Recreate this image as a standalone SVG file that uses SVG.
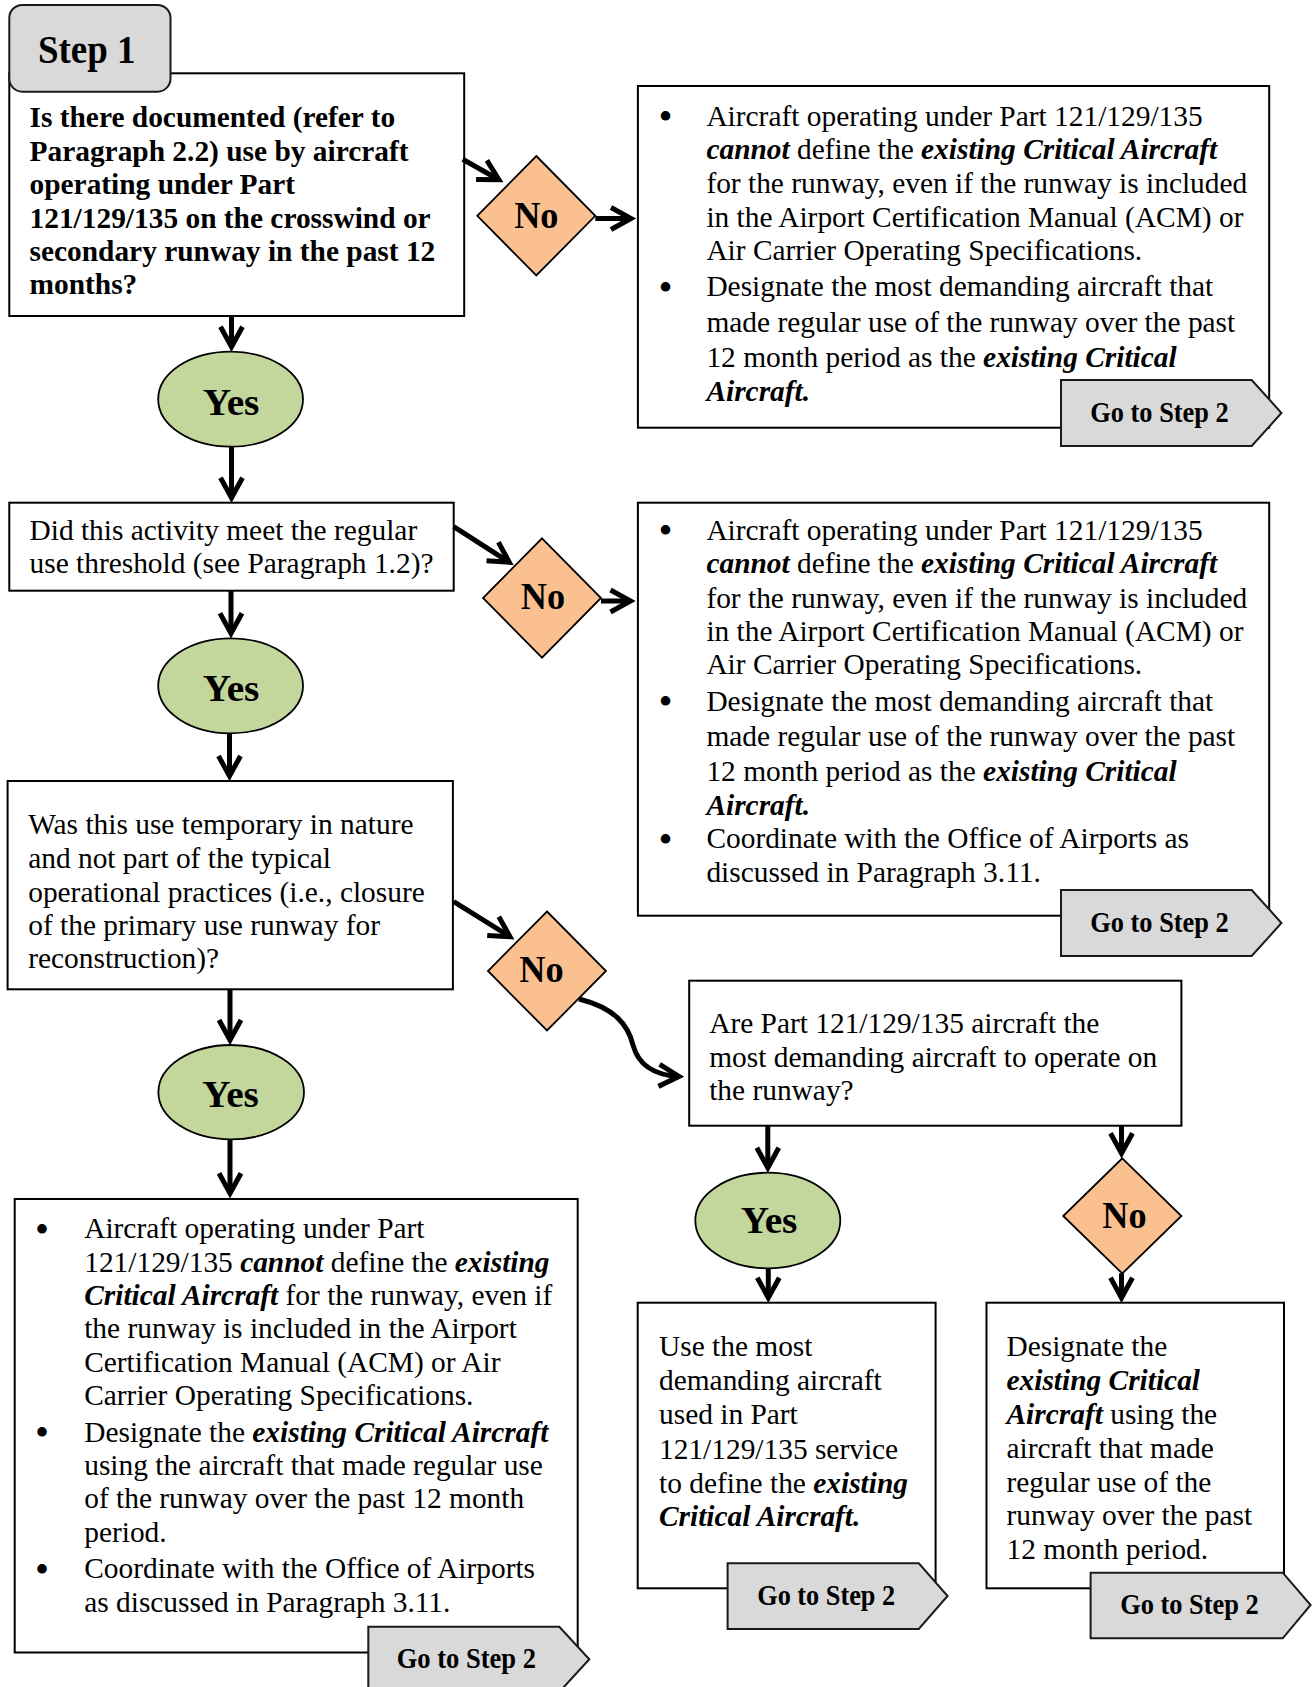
<svg xmlns="http://www.w3.org/2000/svg" width="1314" height="1687" viewBox="0 0 1314 1687">
<style>
  .box{fill:#fff;stroke:#000;stroke-width:2}
  .dia{fill:#fac090;stroke:#000;stroke-width:1.8}
  .ell{fill:#c3d69b;stroke:#000;stroke-width:1.8}
  .go{fill:#d9d9d9;stroke:#1a1a1a;stroke-width:2}
  .tab{fill:#d9d9d9;stroke:#1a1a1a;stroke-width:2}
  text{font-family:"Liberation Serif","Times New Roman",serif;fill:#000}
  .t{font-size:29.4px}
  .bul{font-size:40px}
  .b{font-weight:bold}
  .bi{font-weight:bold;font-style:italic}
  .lbl{font-size:38px;font-weight:bold;text-anchor:middle}
  .gt{font-size:30px;font-weight:bold;text-anchor:middle}
  .conn{fill:none;stroke:#000;stroke-width:5}
</style>
<defs>
  <marker id="ah" markerUnits="userSpaceOnUse" markerWidth="40" markerHeight="40" viewBox="-30 -20 40 40" refX="0" refY="0" orient="auto">
    <path d="M-20 -11 L0 0 L-20 11" fill="none" stroke="#000" stroke-width="5" stroke-linejoin="miter"/>
  </marker>
</defs>

<!-- Step 1 question -->
<g id="q1">
  <rect class="box" x="9.3" y="73.3" width="454.9" height="242.7"/>
  <text class="t b">
    <tspan x="29.5" y="127.3">Is there documented (refer to</tspan>
    <tspan x="29.5" y="160.7">Paragraph 2.2) use by aircraft</tspan>
    <tspan x="29.5" y="194.1">operating under Part</tspan>
    <tspan x="29.5" y="227.5">121/129/135 on the crosswind or</tspan>
    <tspan x="29.5" y="260.9">secondary runway in the past 12</tspan>
    <tspan x="29.5" y="294.3">months?</tspan>
  </text>
</g>
<g id="step1">
  <rect class="tab" x="9.3" y="5" width="161.2" height="86.7" rx="13" ry="13"/>
  <text class="b" x="37.9" y="63.3" font-size="39" textLength="97.6" lengthAdjust="spacingAndGlyphs">Step 1</text>
</g>

<g id="no1">
  <polygon class="dia" points="536.3,156 595.3,215.8 536.3,275.5 477.3,215.8"/>
  <text class="lbl" x="536.3" y="228.3" textLength="44.3" lengthAdjust="spacingAndGlyphs">No</text>
</g>

<g id="r1">
  <rect class="box" x="637.9" y="86" width="631.3" height="341.7"/>
  <text class="bul">
    <tspan x="658.5" y="130">•</tspan>
    <tspan x="658.5" y="300.5">•</tspan>
  </text>
  <text class="t" x="706.4" y="125.7">Aircraft operating under Part 121/129/135</text>
  <text class="t" x="706.4" y="159.1"><tspan class="bi">cannot</tspan> define the <tspan class="bi">existing Critical Aircraft</tspan></text>
  <text class="t" x="706.4" y="193.2">for the runway, even if the runway is included</text>
  <text class="t" x="706.4" y="226.7">in the Airport Certification Manual (ACM) or</text>
  <text class="t" x="706.4" y="260.1">Air Carrier Operating Specifications.</text>
  <text class="t" x="706.4" y="296.3">Designate the most demanding aircraft that</text>
  <text class="t" x="706.4" y="331.5">made regular use of the runway over the past</text>
  <text class="t" x="706.4" y="367">12 month period as the <tspan class="bi">existing Critical</tspan></text>
  <text class="t bi" x="706.4" y="400.7">Aircraft.</text>
</g>
<g id="go1">
  <polygon class="go" points="1061,380 1251.7,380 1281.4,413 1251.7,446 1061,446"/>
  <text class="gt" x="1159.5" y="421.7" textLength="138.5" lengthAdjust="spacingAndGlyphs">Go to Step 2</text>
</g>

<g id="yes1">
  <ellipse class="ell" cx="230.6" cy="399.2" rx="72.4" ry="47.5"/>
  <text class="lbl" x="231" y="414.5" font-size="37.5" textLength="56.7" lengthAdjust="spacingAndGlyphs">Yes</text>
</g>

<g id="q2">
  <rect class="box" x="9.3" y="502.7" width="444.4" height="88"/>
  <text class="t">
    <tspan x="29.5" y="540">Did this activity meet the regular</tspan>
    <tspan x="29.5" y="573.3">use threshold (see Paragraph 1.2)?</tspan>
  </text>
</g>

<g id="no2">
  <polygon class="dia" points="542,538.3 601,598 542,657.7 483,598"/>
  <text class="lbl" x="543" y="609.3" textLength="44.3" lengthAdjust="spacingAndGlyphs">No</text>
</g>

<g id="r2">
  <rect class="box" x="637.9" y="502.7" width="631.3" height="413"/>
  <text class="bul">
    <tspan x="658.5" y="544.3">•</tspan>
    <tspan x="658.5" y="714.9">•</tspan>
    <tspan x="658.5" y="852.6">•</tspan>
  </text>
  <text class="t" x="706.4" y="540">Aircraft operating under Part 121/129/135</text>
  <text class="t" x="706.4" y="573.4"><tspan class="bi">cannot</tspan> define the <tspan class="bi">existing Critical Aircraft</tspan></text>
  <text class="t" x="706.4" y="607.5">for the runway, even if the runway is included</text>
  <text class="t" x="706.4" y="641">in the Airport Certification Manual (ACM) or</text>
  <text class="t" x="706.4" y="674.4">Air Carrier Operating Specifications.</text>
  <text class="t" x="706.4" y="710.6">Designate the most demanding aircraft that</text>
  <text class="t" x="706.4" y="745.5">made regular use of the runway over the past</text>
  <text class="t" x="706.4" y="780.5">12 month period as the <tspan class="bi">existing Critical</tspan></text>
  <text class="t bi" x="706.4" y="814.5">Aircraft.</text>
  <text class="t" x="706.4" y="848.3">Coordinate with the Office of Airports as</text>
  <text class="t" x="706.4" y="881.7">discussed in Paragraph 3.11.</text>
</g>
<g id="go2">
  <polygon class="go" points="1061,890 1251.7,890 1281.4,923 1251.7,956 1061,956"/>
  <text class="gt" x="1159.5" y="931.7" textLength="138.5" lengthAdjust="spacingAndGlyphs">Go to Step 2</text>
</g>

<g id="yes2">
  <ellipse class="ell" cx="230.6" cy="685.8" rx="72.4" ry="47.5"/>
  <text class="lbl" x="231" y="700.5" font-size="37.5" textLength="56.7" lengthAdjust="spacingAndGlyphs">Yes</text>
</g>

<g id="q3">
  <rect class="box" x="7.6" y="781" width="445.3" height="208.3"/>
  <text class="t">
    <tspan x="28.2" y="834.3">Was this use temporary in nature</tspan>
    <tspan x="28.2" y="867.7">and not part of the typical</tspan>
    <tspan x="28.2" y="901.7">operational practices (i.e., closure</tspan>
    <tspan x="28.2" y="935">of the primary use runway for</tspan>
    <tspan x="28.2" y="968.3">reconstruction)?</tspan>
  </text>
</g>

<g id="no3">
  <polygon class="dia" points="547,911.5 606,971 547,1030.5 488,971"/>
  <text class="lbl" x="541.5" y="981.7" textLength="44.3" lengthAdjust="spacingAndGlyphs">No</text>
</g>

<g id="yes3">
  <ellipse class="ell" cx="231.2" cy="1092.2" rx="72.8" ry="47.2"/>
  <text class="lbl" x="230.5" y="1106.7" font-size="37.5" textLength="56.7" lengthAdjust="spacingAndGlyphs">Yes</text>
</g>

<g id="r3">
  <rect class="box" x="14.7" y="1199" width="563" height="453.5"/>
  <text class="bul">
    <tspan x="35" y="1242.6">•</tspan>
    <tspan x="35" y="1446">•</tspan>
    <tspan x="35" y="1582.6">•</tspan>
  </text>
  <text class="t" x="84.2" y="1238.3">Aircraft operating under Part</text>
  <text class="t" x="84.2" y="1271.7">121/129/135 <tspan class="bi">cannot</tspan> define the <tspan class="bi">existing</tspan></text>
  <text class="t" x="84.2" y="1305"><tspan class="bi">Critical Aircraft</tspan> for the runway, even if</text>
  <text class="t" x="84.2" y="1338.3">the runway is included in the Airport</text>
  <text class="t" x="84.2" y="1371.7">Certification Manual (ACM) or Air</text>
  <text class="t" x="84.2" y="1405">Carrier Operating Specifications.</text>
  <text class="t" x="84.2" y="1441.7">Designate the <tspan class="bi">existing Critical Aircraft</tspan></text>
  <text class="t" x="84.2" y="1475">using the aircraft that made regular use</text>
  <text class="t" x="84.2" y="1508.3">of the runway over the past 12 month</text>
  <text class="t" x="84.2" y="1541.7">period.</text>
  <text class="t" x="84.2" y="1578.3">Coordinate with the Office of Airports</text>
  <text class="t" x="84.2" y="1611.7">as discussed in Paragraph 3.11.</text>
</g>
<g id="go3">
  <polygon class="go" points="368.3,1626.7 559.3,1626.7 589.3,1659.3 559.3,1692 368.3,1692"/>
  <text class="gt" x="466.3" y="1668.3" textLength="139.3" lengthAdjust="spacingAndGlyphs">Go to Step 2</text>
</g>

<g id="q4">
  <rect class="box" x="689.2" y="980.7" width="492.2" height="145"/>
  <text class="t">
    <tspan x="709.2" y="1033.3">Are Part 121/129/135 aircraft the</tspan>
    <tspan x="709.2" y="1066.7">most demanding aircraft to operate on</tspan>
    <tspan x="709.2" y="1100">the runway?</tspan>
  </text>
</g>

<g id="yes4">
  <ellipse class="ell" cx="767.8" cy="1220.5" rx="72.5" ry="47.8"/>
  <text class="lbl" x="769" y="1233.3" font-size="37.5" textLength="56.7" lengthAdjust="spacingAndGlyphs">Yes</text>
</g>

<g id="no4">
  <polygon class="dia" points="1122.3,1158.3 1181.4,1216 1122.3,1273.5 1063.2,1216"/>
  <text class="lbl" x="1124.5" y="1228.3" textLength="44.3" lengthAdjust="spacingAndGlyphs">No</text>
</g>

<g id="r4">
  <rect class="box" x="637.7" y="1302.7" width="297.9" height="285.6"/>
  <text class="t" x="659" y="1356">Use the most</text>
  <text class="t" x="659" y="1390">demanding aircraft</text>
  <text class="t" x="659" y="1424">used in Part</text>
  <text class="t" x="659" y="1459">121/129/135 service</text>
  <text class="t" x="659" y="1492.5">to define the <tspan class="bi">existing</tspan></text>
  <text class="t bi" x="659" y="1525.5">Critical Aircraft.</text>
</g>
<g id="go4">
  <polygon class="go" points="727.6,1563.3 918.8,1563.3 947.6,1596 918.8,1629 727.6,1629"/>
  <text class="gt" x="826.2" y="1605" textLength="138" lengthAdjust="spacingAndGlyphs">Go to Step 2</text>
</g>

<g id="r5">
  <rect class="box" x="986.5" y="1302.7" width="297.5" height="285.6"/>
  <text class="t" x="1006.5" y="1356">Designate the</text>
  <text class="t bi" x="1006.5" y="1390">existing Critical</text>
  <text class="t" x="1006.5" y="1424"><tspan class="bi">Aircraft</tspan> using the</text>
  <text class="t" x="1006.5" y="1458">aircraft that made</text>
  <text class="t" x="1006.5" y="1491.5">regular use of the</text>
  <text class="t" x="1006.5" y="1525">runway over the past</text>
  <text class="t" x="1006.5" y="1558.8">12 month period.</text>
</g>
<g id="go5">
  <polygon class="go" points="1090.6,1572.7 1282.7,1572.7 1310.6,1605 1282.7,1638.3 1090.6,1638.3"/>
  <text class="gt" x="1189.5" y="1614.3" textLength="138.6" lengthAdjust="spacingAndGlyphs">Go to Step 2</text>
</g>

<g id="connectors">
  <path class="conn" marker-end="url(#ah)" d="M231.5 316 L231.5 346.7"/>
  <path class="conn" marker-end="url(#ah)" d="M231.5 446.7 L231.5 497.7"/>
  <path class="conn" marker-end="url(#ah)" d="M231 590.7 L231 633.3"/>
  <path class="conn" marker-end="url(#ah)" d="M229.5 733.3 L229.5 776"/>
  <path class="conn" marker-end="url(#ah)" d="M230 989.3 L230 1040"/>
  <path class="conn" marker-end="url(#ah)" d="M230 1139.3 L230 1193.3"/>
  <path class="conn" marker-end="url(#ah)" d="M462.7 159.3 L498.9 179.8"/>
  <path class="conn" marker-end="url(#ah)" d="M595.3 218.5 L631 218.5"/>
  <path class="conn" marker-end="url(#ah)" d="M453.7 526.7 L509.3 562.3"/>
  <path class="conn" marker-end="url(#ah)" d="M601 601 L630.5 601"/>
  <path class="conn" marker-end="url(#ah)" d="M453.7 901.7 L510 936.7"/>
  <path class="conn" marker-end="url(#ah)" d="M579 999 C615 1008 628 1025 633 1045 C638 1064 652 1075 679 1076.5"/>
  <path class="conn" marker-end="url(#ah)" d="M767.8 1125.7 L767.8 1167.7"/>
  <path class="conn" marker-end="url(#ah)" d="M1121.5 1125.7 L1121.5 1153.3"/>
  <path class="conn" marker-end="url(#ah)" d="M768.3 1268.3 L768.3 1297.7"/>
  <path class="conn" marker-end="url(#ah)" d="M1121.5 1273.3 L1121.5 1297.7"/>
</g>
</svg>
